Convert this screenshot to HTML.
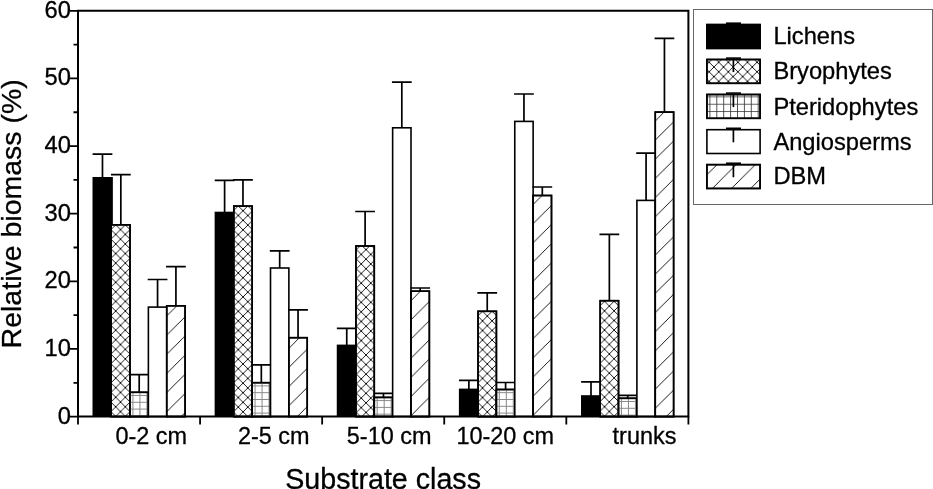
<!DOCTYPE html>
<html lang="en"><head><meta charset="utf-8"><title>Relative biomass by substrate class</title>
<style>html,body{margin:0;padding:0;background:#fff}body{width:933px;height:489px;overflow:hidden}svg{display:block}text{font-family:"Liberation Sans",sans-serif;fill:#000;stroke:#000;stroke-width:0.3px}</style>
</head><body>
<svg width="933" height="489" viewBox="0 0 933 489">
<defs><pattern id="x0" patternUnits="userSpaceOnUse" x="120.50" y="229.60" width="9.58" height="9.58"><path d="M0 0L9.58 9.58M0 9.58L9.58 0" stroke="#000" stroke-width="0.9" fill="none"/></pattern>
<pattern id="g0" patternUnits="userSpaceOnUse" x="132.42" y="395.00" width="7" height="6.8"><path d="M0.5 0V6.8M0 0.5H7" stroke="#888" stroke-width="1" fill="none"/></pattern>
<pattern id="d0" patternUnits="userSpaceOnUse" x="482.70" y="0" width="19.16" height="19.16"><path d="M-1 20.16L20.16 -1M-1 1L1 -1M18.16 20.16L20.16 18.16" stroke="#000" stroke-width="0.9" fill="none"/></pattern>
<pattern id="x1" patternUnits="userSpaceOnUse" x="243.04" y="210.70" width="9.58" height="9.58"><path d="M0 0L9.58 9.58M0 9.58L9.58 0" stroke="#000" stroke-width="0.9" fill="none"/></pattern>
<pattern id="g1" patternUnits="userSpaceOnUse" x="254.55" y="385.40" width="7" height="6.8"><path d="M0.5 0V6.8M0 0.5H7" stroke="#888" stroke-width="1" fill="none"/></pattern>
<pattern id="d1" patternUnits="userSpaceOnUse" x="637.20" y="0" width="19.16" height="19.16"><path d="M-1 20.16L20.16 -1M-1 1L1 -1M18.16 20.16L20.16 18.16" stroke="#000" stroke-width="0.9" fill="none"/></pattern>
<pattern id="x2" patternUnits="userSpaceOnUse" x="366.00" y="249.60" width="9.58" height="9.58"><path d="M0 0L9.58 9.58M0 9.58L9.58 0" stroke="#000" stroke-width="0.9" fill="none"/></pattern>
<pattern id="g2" patternUnits="userSpaceOnUse" x="376.68" y="400.10" width="7" height="6.8"><path d="M0.5 0V6.8M0 0.5H7" stroke="#888" stroke-width="1" fill="none"/></pattern>
<pattern id="d2" patternUnits="userSpaceOnUse" x="711.70" y="0" width="19.16" height="19.16"><path d="M-1 20.16L20.16 -1M-1 1L1 -1M18.16 20.16L20.16 18.16" stroke="#000" stroke-width="0.9" fill="none"/></pattern>
<pattern id="x3" patternUnits="userSpaceOnUse" x="487.30" y="316.10" width="9.58" height="9.58"><path d="M0 0L9.58 9.58M0 9.58L9.58 0" stroke="#000" stroke-width="0.9" fill="none"/></pattern>
<pattern id="g3" patternUnits="userSpaceOnUse" x="498.81" y="392.20" width="7" height="6.8"><path d="M0.5 0V6.8M0 0.5H7" stroke="#888" stroke-width="1" fill="none"/></pattern>
<pattern id="d3" patternUnits="userSpaceOnUse" x="852.60" y="0" width="19.16" height="19.16"><path d="M-1 20.16L20.16 -1M-1 1L1 -1M18.16 20.16L20.16 18.16" stroke="#000" stroke-width="0.9" fill="none"/></pattern>
<pattern id="x4" patternUnits="userSpaceOnUse" x="609.30" y="306.10" width="9.58" height="9.58"><path d="M0 0L9.58 9.58M0 9.58L9.58 0" stroke="#000" stroke-width="0.9" fill="none"/></pattern>
<pattern id="g4" patternUnits="userSpaceOnUse" x="620.94" y="401.00" width="7" height="6.8"><path d="M0.5 0V6.8M0 0.5H7" stroke="#888" stroke-width="1" fill="none"/></pattern>
<pattern id="d4" patternUnits="userSpaceOnUse" x="967.80" y="0" width="19.16" height="19.16"><path d="M-1 20.16L20.16 -1M-1 1L1 -1M18.16 20.16L20.16 18.16" stroke="#000" stroke-width="0.9" fill="none"/></pattern>
<pattern id="lx" patternUnits="userSpaceOnUse" x="733.10" y="76.60" width="9.58" height="9.58"><path d="M0 0L9.58 9.58M0 9.58L9.58 0" stroke="#000" stroke-width="0.9" fill="none"/></pattern>
<pattern id="lg" patternUnits="userSpaceOnUse" x="709.40" y="96.40" width="6.9" height="7.35"><path d="M0.5 0V7.35M0 0.5H6.9" stroke="#333" stroke-width="0.8" fill="none"/></pattern>
<pattern id="ld" patternUnits="userSpaceOnUse" x="900.80" y="0" width="19.16" height="19.16"><path d="M-1 20.16L20.16 -1M-1 1L1 -1M18.16 20.16L20.16 18.16" stroke="#000" stroke-width="0.9" fill="none"/></pattern></defs>
<rect width="933" height="489" fill="#fff"/>
<g stroke="#000" stroke-width="1.6">
<path d="M102.48 177.80V154.10M92.60 154.10H112.36" fill="none" stroke-width="1.7"/>
<rect x="92.50" y="177.00" width="20.36" height="239.60" fill="#000" stroke="none"/>
<path d="M120.84 224.80V174.60M110.96 174.60H130.72" fill="none" stroke-width="1.7"/>
<rect x="111.06" y="224.80" width="18.96" height="191.80" fill="#fff"/>
<rect x="111.06" y="224.80" width="18.96" height="191.80" fill="url(#x0)"/>
<path d="M139.20 392.30V374.60M129.32 374.60H149.08" fill="none" stroke-width="1.7"/>
<rect x="130.02" y="392.30" width="18.36" height="24.30" fill="#fff"/>
<rect x="130.02" y="392.30" width="18.36" height="24.30" fill="url(#g0)"/>
<path d="M157.56 307.10V279.50M147.68 279.50H167.44" fill="none" stroke-width="1.7"/>
<rect x="148.38" y="307.10" width="18.36" height="109.50" fill="#fff"/>
<path d="M175.92 305.80V266.60M166.04 266.60H185.80" fill="none" stroke-width="1.7"/>
<rect x="166.74" y="305.80" width="18.36" height="110.80" fill="#fff"/>
<rect x="166.74" y="305.80" width="18.36" height="110.80" fill="url(#d0)"/>
<path d="M224.61 212.50V180.40M214.73 180.40H234.49" fill="none" stroke-width="1.7"/>
<rect x="214.63" y="211.70" width="20.36" height="204.90" fill="#000" stroke="none"/>
<path d="M242.97 206.10V179.80M233.09 179.80H252.85" fill="none" stroke-width="1.7"/>
<rect x="233.79" y="206.10" width="18.36" height="210.50" fill="#fff"/>
<rect x="233.79" y="206.10" width="18.36" height="210.50" fill="url(#x1)"/>
<path d="M261.33 382.70V364.90M251.45 364.90H271.21" fill="none" stroke-width="1.7"/>
<rect x="252.15" y="382.70" width="18.36" height="33.90" fill="#fff"/>
<rect x="252.15" y="382.70" width="18.36" height="33.90" fill="url(#g1)"/>
<path d="M279.69 268.00V250.90M269.81 250.90H289.57" fill="none" stroke-width="1.7"/>
<rect x="270.51" y="268.00" width="18.36" height="148.60" fill="#fff"/>
<path d="M298.05 337.70V309.80M288.17 309.80H307.93" fill="none" stroke-width="1.7"/>
<rect x="288.87" y="337.70" width="18.36" height="78.90" fill="#fff"/>
<rect x="288.87" y="337.70" width="18.36" height="78.90" fill="url(#d1)"/>
<path d="M346.74 345.40V328.40M336.86 328.40H356.62" fill="none" stroke-width="1.7"/>
<rect x="336.76" y="344.60" width="20.36" height="72.00" fill="#000" stroke="none"/>
<path d="M365.10 246.00V211.50M355.22 211.50H374.98" fill="none" stroke-width="1.7"/>
<rect x="355.92" y="246.00" width="18.36" height="170.60" fill="#fff"/>
<rect x="355.92" y="246.00" width="18.36" height="170.60" fill="url(#x2)"/>
<path d="M383.46 397.40V393.30M373.58 393.30H393.34" fill="none" stroke-width="1.7"/>
<rect x="374.28" y="397.40" width="18.36" height="19.20" fill="#fff"/>
<rect x="374.28" y="397.40" width="18.36" height="19.20" fill="url(#g2)"/>
<path d="M401.82 127.80V82.20M391.94 82.20H411.70" fill="none" stroke-width="1.7"/>
<rect x="392.64" y="127.80" width="18.36" height="288.80" fill="#fff"/>
<path d="M420.18 291.20V288.00M410.30 288.00H430.06" fill="none" stroke-width="1.7"/>
<rect x="411.00" y="291.20" width="18.36" height="125.40" fill="#fff"/>
<rect x="411.00" y="291.20" width="18.36" height="125.40" fill="url(#d2)"/>
<path d="M468.87 389.40V380.40M458.99 380.40H478.75" fill="none" stroke-width="1.7"/>
<rect x="458.89" y="388.60" width="20.36" height="28.00" fill="#000" stroke="none"/>
<path d="M487.23 311.30V292.90M477.35 292.90H497.11" fill="none" stroke-width="1.7"/>
<rect x="478.05" y="311.30" width="18.36" height="105.30" fill="#fff"/>
<rect x="478.05" y="311.30" width="18.36" height="105.30" fill="url(#x3)"/>
<path d="M505.59 389.50V382.50M495.71 382.50H515.47" fill="none" stroke-width="1.7"/>
<rect x="496.41" y="389.50" width="18.36" height="27.10" fill="#fff"/>
<rect x="496.41" y="389.50" width="18.36" height="27.10" fill="url(#g3)"/>
<path d="M523.95 121.40V94.00M514.07 94.00H533.83" fill="none" stroke-width="1.7"/>
<rect x="514.77" y="121.40" width="18.36" height="295.20" fill="#fff"/>
<path d="M542.31 195.50V187.00M532.43 187.00H552.19" fill="none" stroke-width="1.7"/>
<rect x="533.13" y="195.50" width="18.36" height="221.10" fill="#fff"/>
<rect x="533.13" y="195.50" width="18.36" height="221.10" fill="url(#d3)"/>
<path d="M591.00 396.00V381.80M581.12 381.80H600.88" fill="none" stroke-width="1.7"/>
<rect x="581.02" y="395.20" width="20.36" height="21.40" fill="#000" stroke="none"/>
<path d="M609.36 300.70V234.30M599.48 234.30H619.24" fill="none" stroke-width="1.7"/>
<rect x="600.18" y="300.70" width="18.36" height="115.90" fill="#fff"/>
<rect x="600.18" y="300.70" width="18.36" height="115.90" fill="url(#x4)"/>
<path d="M627.72 398.30V395.30M617.84 395.30H637.60" fill="none" stroke-width="1.7"/>
<rect x="618.54" y="398.30" width="18.36" height="18.30" fill="#fff"/>
<rect x="618.54" y="398.30" width="18.36" height="18.30" fill="url(#g4)"/>
<path d="M646.08 200.40V153.20M636.20 153.20H655.96" fill="none" stroke-width="1.7"/>
<rect x="636.90" y="200.40" width="18.36" height="216.20" fill="#fff"/>
<path d="M664.44 112.10V38.30M654.56 38.30H674.32" fill="none" stroke-width="1.7"/>
<rect x="655.26" y="112.10" width="18.36" height="304.50" fill="#fff"/>
<rect x="655.26" y="112.10" width="18.36" height="304.50" fill="url(#d4)"/>
</g>
<g stroke="#000" stroke-width="2" fill="none">
<path d="M78.00 10.80H688.40V416.60H78.00Z"/>
<path d="M78.00 416.60H69.50M78.00 348.97H69.50M78.00 281.33H69.50M78.00 213.70H69.50M78.00 146.07H69.50M78.00 78.43H69.50M78.00 10.80H69.50M78.00 382.78H73.50M78.00 315.15H73.50M78.00 247.52H73.50M78.00 179.88H73.50M78.00 112.25H73.50M78.00 44.62H73.50M78.00 416.60V424.40M200.08 416.60V424.40M322.16 416.60V424.40M444.24 416.60V424.40M566.32 416.60V424.40M688.40 416.60V424.40" stroke-width="1.8"/>
</g>
<g font-size="23.7" text-anchor="end">
<text x="70.9" y="423.55">0</text>
<text x="70.9" y="355.92">10</text>
<text x="70.9" y="288.28">20</text>
<text x="70.9" y="220.65">30</text>
<text x="70.9" y="153.02">40</text>
<text x="70.9" y="85.38">50</text>
<text x="70.9" y="17.75">60</text>
</g>
<g font-size="23.7">
<text x="115.40" y="443.6" font-size="23.45">0-2 cm</text>
<text x="237.90" y="443.6" font-size="23.45">2-5 cm</text>
<text x="346.80" y="443.6" font-size="23.45">5-10 cm</text>
<text x="456.40" y="443.6" font-size="23.45">10-20 cm</text>
<text x="612.60" y="443.6" font-size="23.45">trunks</text>
</g>
<text x="285.2" y="488.6" font-size="28.65">Substrate class</text>
<text transform="translate(21 348.4) rotate(-90)" font-size="28.5">Relative biomass (%)</text>
<rect x="693.5" y="9.5" width="239" height="195" fill="#fff" stroke="#666" stroke-width="1"/>
<g stroke="#000" stroke-width="1.6">
<rect x="706.90" y="24.60" width="53.20" height="23.80" fill="#fff"/>
<rect x="706.90" y="24.60" width="53.20" height="23.80" fill="#000"/>
<path d="M726 23.20H741" fill="none" stroke-width="1.6"/>
<path d="M733.4 23.20V37.20" fill="none" stroke-width="1.7"/>
<rect x="706.90" y="59.50" width="53.20" height="23.80" fill="#fff"/>
<rect x="706.90" y="59.50" width="53.20" height="23.80" fill="url(#lx)"/>
<path d="M726 58.10H741" fill="none" stroke-width="1.6"/>
<path d="M733.4 58.10V72.10" fill="none" stroke-width="1.7"/>
<rect x="706.90" y="94.50" width="53.20" height="23.80" fill="#fff"/>
<rect x="706.90" y="94.50" width="53.20" height="23.80" fill="url(#lg)"/>
<path d="M726 93.10H741" fill="none" stroke-width="1.6"/>
<path d="M733.4 93.10V107.10" fill="none" stroke-width="1.7"/>
<rect x="706.90" y="129.70" width="53.20" height="23.80" fill="#fff"/>
<path d="M726 128.30H741" fill="none" stroke-width="1.6"/>
<path d="M733.4 128.30V142.30" fill="none" stroke-width="1.7"/>
<rect x="706.90" y="164.65" width="53.20" height="23.80" fill="#fff"/>
<rect x="706.90" y="164.65" width="53.20" height="23.80" fill="url(#ld)"/>
<path d="M726 163.25H741" fill="none" stroke-width="1.6"/>
<path d="M733.4 163.25V177.25" fill="none" stroke-width="1.7"/>
</g>
<g font-size="23.7">
<text x="773.4" y="44.20">Lichens</text>
<text x="773.4" y="79.40">Bryophytes</text>
<text x="773.4" y="114.50">Pteridophytes</text>
<text x="773.4" y="149.70">Angiosperms</text>
<text x="773.4" y="184.40">DBM</text>
</g>
</svg>
</body></html>
